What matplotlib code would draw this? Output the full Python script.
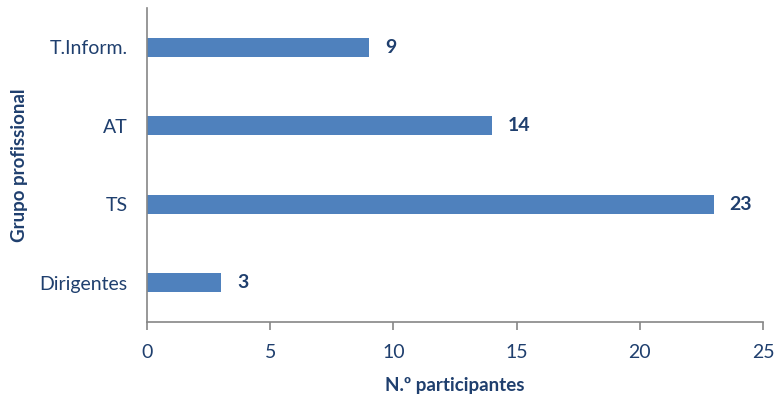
import matplotlib
matplotlib.use('Agg')
import matplotlib.pyplot as plt

grupos = ['Dirigentes', 'TS', 'AT', 'T.Inform.']
participantes = [3, 23, 14, 9]
xticks = [0, 5, 10, 15, 20, 25]

plt.rcParams['font.family'] = ['Lato', 'DejaVu Sans']
txt = '#1F3F6E'
barcol = '#4F81BD'
axcol = '#868686'

fig = plt.figure(figsize=(7.76, 3.97), dpi=100)
ax = fig.add_axes([147/776, 1-322/397, (763-147)/776, (322-8)/397])

pos = range(len(grupos))
ax.barh(pos, participantes, height=0.24, color=barcol)
for y, v in zip(pos, participantes):
    ax.text(v + 0.65, y, str(v), va='center', ha='left', fontsize=14,
            fontweight='bold', color=txt)

ax.set_xlim(0, 25)
ax.set_ylim(-0.5, len(grupos) - 0.5)
ax.set_xticks(xticks)
ax.set_xticklabels([str(t) for t in xticks])
ax.set_yticks(list(pos))
ax.set_yticklabels(grupos)

for s in ['top', 'right']:
    ax.spines[s].set_visible(False)
for s in ['left', 'bottom']:
    ax.spines[s].set_color(axcol)
    ax.spines[s].set_linewidth(1.2)
ax.tick_params(axis='x', direction='out', length=6, width=1.2, color=axcol,
               labelsize=14, labelcolor=txt, pad=10)
ax.tick_params(axis='y', length=0, labelsize=14, labelcolor=txt, pad=14)

ax.set_xlabel('N.º participantes', fontsize=13.5, fontweight='bold', color=txt,
              labelpad=11)
ax.set_ylabel('Grupo profissional', fontsize=13.5, fontweight='bold', color=txt,
              labelpad=8)

fig.savefig('out.png', dpi=100)
